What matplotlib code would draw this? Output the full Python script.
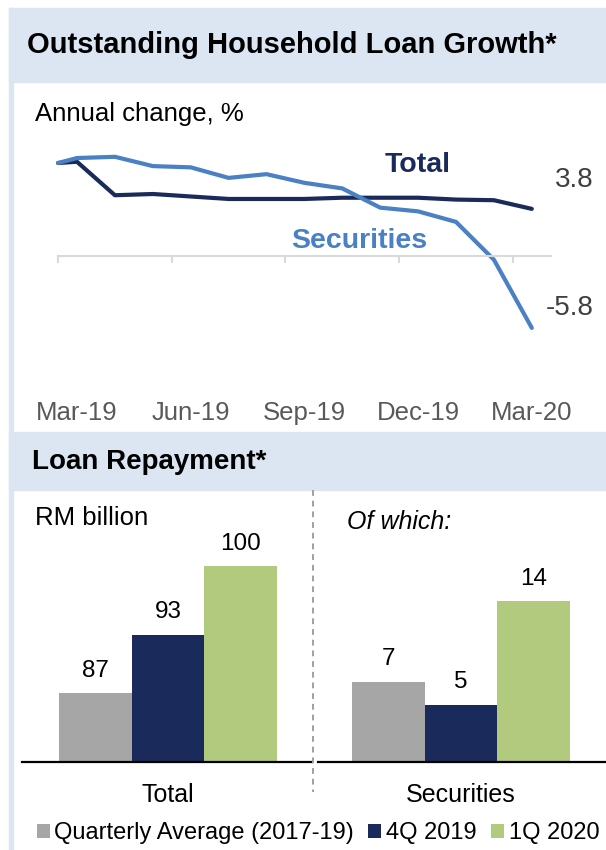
import matplotlib
matplotlib.use('Agg')
import matplotlib.pyplot as plt
import matplotlib.transforms as mtransforms
from matplotlib.patches import Rectangle
from matplotlib.lines import Line2D

plt.rcParams['font.family'] = ['Liberation Sans', 'DejaVu Sans']

# 數據: 月份位置 (以 Mar-19 = 0), 第一個點在半個月前
months = [-0.5, 0, 1, 2, 3, 4, 5, 6, 7, 8, 9, 10, 11, 12]
total_growth = [7.5, 7.6, 4.9, 5.0, 4.8, 4.6, 4.6, 4.6, 4.7, 4.7, 4.7, 4.55, 4.5, 3.8]
sec_growth = [7.5, 7.9, 8.0, 7.25, 7.15, 6.3, 6.6, 5.9, 5.45, 3.9, 3.6, 2.75, -0.3, -5.8]
tick_labels = ['Mar-19', 'Jun-19', 'Sep-19', 'Dec-19', 'Mar-20']
label_pos = [0, 3, 6, 9, 12]
tick_pos = [-0.5, 2.5, 5.5, 8.5, 11.5]

series_names = ['Quarterly Average (2017-19)', '4Q 2019', '1Q 2020']
repay_total = [87, 93, 100]
repay_sec = [7, 5, 14]
groups = ['Total', 'Securities']

band_c = '#DCE6F2'
navy = '#1A2A5A'
steel = '#4A80C4'
bar_colors = ['#A6A6A6', '#1A2A5A', '#B2CA7E']

W, H = 606, 850
fig = plt.figure(figsize=(W / 100, H / 100), dpi=100)


def fx(px):
    return px / W


def fy(py):
    return 1 - py / H


def box(x0, y0, x1, y1):
    # 像素 -> figure 座標 [left, bottom, width, height]
    return [fx(x0), fy(y1), (x1 - x0) / W, (y1 - y0) / H]


# 背景色帶
fig.patches.append(Rectangle((fx(9), fy(82)), 1, (82 - 8) / H, transform=fig.transFigure,
                             color=band_c, zorder=0))
fig.patches.append(Rectangle((fx(9), fy(490)), 1, (490 - 432) / H, transform=fig.transFigure,
                             color=band_c, zorder=0))
fig.patches.append(Rectangle((fx(9), 0), 4 / W, fy(8), transform=fig.transFigure,
                             color=band_c, zorder=0))

fig.text(fx(27), fy(45), 'Outstanding Household Loan Growth*', fontsize=21,
         fontweight='bold', va='center', ha='left')
fig.text(fx(32), fy(462), 'Loan Repayment*', fontsize=20,
         fontweight='bold', va='center', ha='left')

# ---- 折線圖 ----
ax = fig.add_axes(box(20, 140, 600, 345))
ax.patch.set_alpha(0)
ax.set_xlim((20 - 77) / 37.9, (600 - 77) / 37.9)
ax.set_ylim((256 - 345) / 12.4, (256 - 140) / 12.4)
ax.plot(months, total_growth, color=navy, lw=3, solid_capstyle='round', solid_joinstyle='round')
ax.plot(months, sec_growth, color=steel, lw=3, solid_capstyle='round', solid_joinstyle='round')

for s in ['top', 'right', 'left']:
    ax.spines[s].set_visible(False)
ax.spines['bottom'].set_position(('data', 0))
ax.spines['bottom'].set_bounds(months[0], months[-1] + 0.5)
ax.spines['bottom'].set_color('#D9D9D9')
ax.spines['bottom'].set_linewidth(1.5)
ax.set_xticks(tick_pos)
ax.tick_params(axis='x', length=5, width=1.5, color='#D9D9D9', labelbottom=False)
ax.set_yticks([])

blend = mtransforms.blended_transform_factory(ax.transData, fig.transFigure)
for p, lab in zip(label_pos, tick_labels):
    ax.text(p, fy(413), lab, transform=blend, ha='center', va='center',
            fontsize=18.5, color='#595959')

fig.text(fx(35), fy(114), 'Annual change, %', fontsize=18.5, va='center', ha='left')
fig.text(fx(418), fy(165), 'Total', fontsize=20.5, fontweight='bold', color=navy,
         ha='center', va='center')
fig.text(fx(359), fy(241), 'Securities', fontsize=20.5, fontweight='bold', color=steel,
         ha='center', va='center')
fig.text(fx(594), fy(180), f'{total_growth[-1]:.1f}', fontsize=20, color='#404040',
         ha='right', va='center')
fig.text(fx(594), fy(308), f'{sec_growth[-1]:.1f}', fontsize=20, color='#404040',
         ha='right', va='center')

# ---- 柱狀圖 ----
xb = [-1, 0, 1]
ax_l = fig.add_axes(box(22, 500, 312, 762))
ax_r = fig.add_axes(box(318, 500, 606, 762))
ax_l.set_xlim(-(168 - 22) / 72.5, (312 - 168) / 72.5)
ax_l.set_ylim(80, 80 + 262 / 9.8)
ax_r.set_xlim(-(461 - 318) / 72.5, (606 - 461) / 72.5)
ax_r.set_ylim(0, 262 / 11.5)

handles = []
for a, vals, grp in [(ax_l, repay_total, groups[0]), (ax_r, repay_sec, groups[1])]:
    a.patch.set_alpha(0)
    bars = a.bar(xb, vals, width=1.0, color=bar_colors, bottom=0)
    for b, v in zip(bars, vals):
        a.annotate(f'{v}', (b.get_x() + b.get_width() / 2, v), xytext=(0, 16),
                   textcoords='offset points', ha='center', va='center', fontsize=17.5)
    for s in ['top', 'right', 'left']:
        a.spines[s].set_visible(False)
    a.spines['bottom'].set_color('black')
    a.spines['bottom'].set_linewidth(1.6)
    a.set_yticks([])
    a.set_xticks([0], [grp])
    a.tick_params(axis='x', length=0, pad=15, labelsize=18)
    handles = list(bars)

fig.text(fx(35), fy(518), 'RM billion', fontsize=18.5, va='center', ha='left')
fig.text(fx(347), fy(522), 'Of which:', fontsize=18, style='italic', va='center', ha='left')

fig.lines.append(Line2D([fx(313), fx(313)], [fy(490), fy(792)], transform=fig.transFigure,
                        color='#A0A0A0', lw=1.4, linestyle=(0, (3, 2.5))))

fig.legend(handles, series_names, loc='center', bbox_to_anchor=(fx(318), fy(833)), ncol=3,
           frameon=False, fontsize=17, handlelength=0.55, handleheight=0.55,
           handletextpad=0.2, columnspacing=0.6, borderpad=0)

fig.savefig('out.png', dpi=100)
